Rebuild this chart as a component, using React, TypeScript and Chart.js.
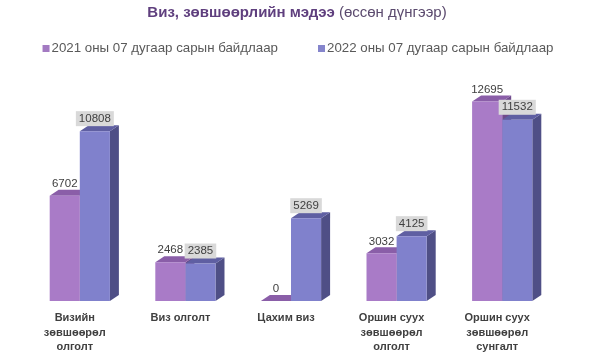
import React, { useEffect, useRef } from "react";
import { Chart, registerables } from "chart.js";

Chart.register(...registerables);

const categories: string[][] = [
  ["Визийн", "зөвшөөрөл", "олголт"],
  ["Виз олголт"],
  ["Цахим виз"],
  ["Оршин суух", "зөвшөөрөл", "олголт"],
  ["Оршин суух", "зөвшөөрөл", "сунгалт"],
];
const series2021 = [6702, 2468, 0, 3032, 12695];
const series2022 = [10808, 2385, 5269, 4125, 11532];
const seriesNames = ["2021 оны 07 дугаар сарын байдлаар", "2022 оны 07 дугаар сарын байдлаар"];
const titleBold = "Виз, зөвшөөрлийн мэдээ";
const titleNormal = "(өссөн дүнгээр)";
const yMax = 14000;

const FONT = "'Liberation Sans', Arial, sans-serif";
const frontColors = ["#a97bc7", "#8081cc"];
const sideColors = ["#6f4a8c", "#4f4f86"];
const topColors = ["#8a5ea8", "#5f5fa2"];
const legendColors = ["#a37ac2", "#8585cc"];
const DX = 9;
const DY = 6;

const bar3dPlugin = {
  id: "bar3d",
  beforeDatasetsDraw(chart: any) {
    const ctx = chart.ctx;
    ctx.save();
    chart.data.datasets.forEach((_ds: any, di: number) => {
      const meta = chart.getDatasetMeta(di);
      meta.data.forEach((bar: any) => {
        const { x, y, base, width } = bar.getProps(["x", "y", "base", "width"], true);
        const l = x - width / 2;
        const r = x + width / 2;
        ctx.fillStyle = sideColors[di];
        ctx.beginPath();
        ctx.moveTo(r, y);
        ctx.lineTo(r + DX, y - DY);
        ctx.lineTo(r + DX, base - DY);
        ctx.lineTo(r, base);
        ctx.closePath();
        ctx.fill();
        ctx.fillStyle = topColors[di];
        ctx.beginPath();
        ctx.moveTo(l, y);
        ctx.lineTo(l + DX, y - DY);
        ctx.lineTo(r + DX, y - DY);
        ctx.lineTo(r, y);
        ctx.closePath();
        ctx.fill();
      });
    });
    ctx.restore();
  },
  afterDatasetsDraw(chart: any) {
    const ctx = chart.ctx;
    ctx.save();
    ctx.font = `11.5px ${FONT}`;
    ctx.textAlign = "center";
    ctx.textBaseline = "middle";
    chart.data.datasets.forEach((ds: any, di: number) => {
      const meta = chart.getDatasetMeta(di);
      meta.data.forEach((bar: any, i: number) => {
        const { x, y } = bar.getProps(["x", "y"], true);
        const txt = String(ds.data[i]);
        if (di === 1) {
          const w = ctx.measureText(txt).width;
          ctx.fillStyle = "#d9d9d9";
          ctx.fillRect(x - w / 2 - 3, y - 20, w + 6, 15);
        }
        ctx.fillStyle = "#404040";
        ctx.fillText(txt, x, di === 1 ? y - 12.5 : y - 12);
      });
    });
    ctx.restore();
  },
  afterDraw(chart: any) {
    const ctx = chart.ctx;
    ctx.save();
    // title
    ctx.textBaseline = "middle";
    ctx.textAlign = "left";
    ctx.font = `bold 15px ${FONT}`;
    const wb = ctx.measureText(titleBold).width;
    ctx.font = `15px ${FONT}`;
    const wn = ctx.measureText(titleNormal).width;
    const gap = 4;
    const tx = chart.width / 2 - 3 - (wb + gap + wn) / 2;
    ctx.font = `bold 15px ${FONT}`;
    ctx.fillStyle = "#5f3f7e";
    ctx.fillText(titleBold, tx, 12.5);
    ctx.font = `15px ${FONT}`;
    ctx.fillStyle = "#5b4a6e";
    ctx.fillText(titleNormal, tx + wb + gap, 12.5);
    // legend
    ctx.font = `13.3px ${FONT}`;
    const box = 7;
    const sp = 2;
    const itemGap = 40;
    const widths = seriesNames.map((n) => box + sp + ctx.measureText(n).width);
    const total = widths.reduce((a, b) => a + b, 0) + itemGap * (widths.length - 1);
    let lx = 298 - total / 2;
    const ly = 48.5;
    seriesNames.forEach((n, i) => {
      ctx.fillStyle = legendColors[i];
      ctx.fillRect(lx, ly - box / 2, box, box);
      ctx.fillStyle = "#595959";
      ctx.fillText(n, lx + box + sp, ly);
      lx += widths[i] + itemGap;
    });
    ctx.restore();
  },
};

export default function App() {
  const ref = useRef<HTMLCanvasElement | null>(null);
  useEffect(() => {
    if (!ref.current) return;
    const chart = new Chart(ref.current, {
      type: "bar",
      data: {
        labels: categories,
        datasets: [
          { label: seriesNames[0], data: series2021, backgroundColor: frontColors[0], categoryPercentage: 0.57, barPercentage: 1 },
          { label: seriesNames[1], data: series2022, backgroundColor: frontColors[1], categoryPercentage: 0.57, barPercentage: 1 },
        ],
      },
      options: {
        responsive: false,
        animation: false,
        layout: { padding: { top: 81, left: 27, right: 45, bottom: 0 } },
        plugins: { legend: { display: false }, tooltip: { enabled: false }, title: { display: false } },
        scales: {
          x: {
            grid: { display: false, drawTicks: false },
            border: { display: false },
            ticks: {
              color: "#404040",
              font: { family: FONT, size: 11, weight: "bold", lineHeight: 1.32 },
              padding: 10,
              labelOffset: -5,
              maxRotation: 0,
              autoSkip: false,
            },
            afterFit: (s: any) => {
              s.height = 58;
            },
          },
          y: { display: false, min: 0, max: yMax },
        },
      },
      plugins: [bar3dPlugin],
    });
    return () => chart.destroy();
  }, []);
  return (
    <div style={{ position: "absolute", left: 0, top: 0, width: 600, height: 359, background: "#fff" }}>
      <canvas ref={ref} width={600} height={359} />
    </div>
  );
}
